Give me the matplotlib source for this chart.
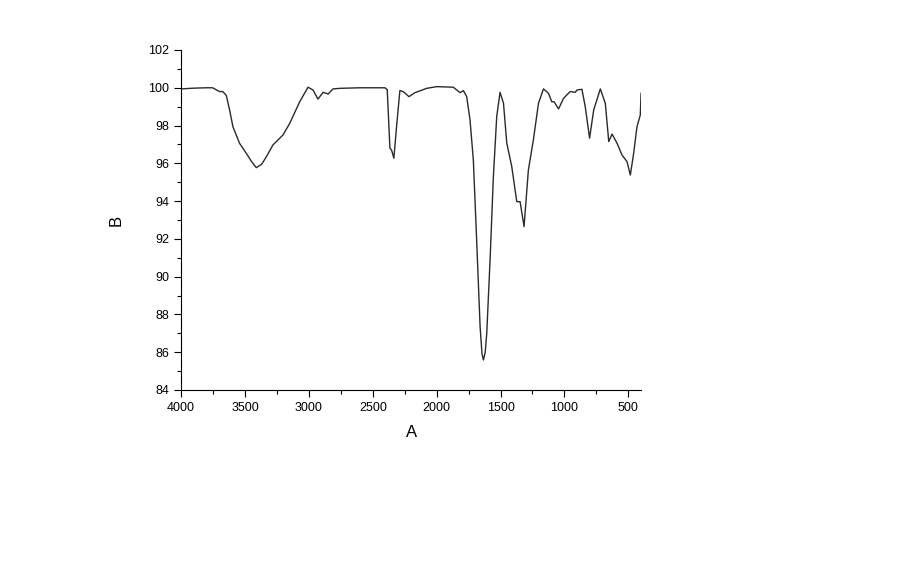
import matplotlib
matplotlib.use("Agg")
import matplotlib.pyplot as plt
from matplotlib.ticker import MultipleLocator

# wavenumber (A) and transmittance (B)
wavenumber = [
    4000, 3900, 3800, 3754, 3700, 3675, 3647, 3620, 3595, 3543, 3490, 3450, 3412,
    3370, 3333, 3282, 3203, 3150, 3072, 3007, 2968, 2929, 2889, 2850, 2811, 2758,
    2600, 2405, 2387, 2366, 2353, 2335, 2314, 2288, 2262, 2217, 2170, 2078, 2000,
    1870, 1817, 1791, 1765, 1739, 1713, 1686, 1660, 1645, 1634, 1620, 1608, 1582,
    1556, 1530, 1504, 1477, 1451, 1412, 1373, 1347, 1316, 1282, 1243, 1203, 1164,
    1125, 1099, 1081, 1046, 1007, 955, 915, 902, 863, 837, 803, 771, 719, 680,
    653, 627, 588, 549, 510, 484, 458, 432, 406, 400,
]
transmittance = [
    99.94, 99.98, 100.0, 100.0, 99.8, 99.8, 99.6, 98.8, 97.94, 97.06, 96.53, 96.1, 95.77,
    95.95, 96.35, 96.97, 97.5, 98.12, 99.26, 100.03, 99.88, 99.4, 99.76, 99.67, 99.94, 99.97,
    100.0, 100.0, 99.9, 96.8, 96.7, 96.27, 97.94, 99.85, 99.8, 99.53, 99.74, 99.97, 100.06,
    100.03, 99.74, 99.85, 99.53, 98.3, 96.18, 91.77, 87.35, 85.9, 85.59, 86.0, 87.0, 90.88,
    95.3, 98.47, 99.76, 99.18, 97.06, 95.82, 93.97, 93.97, 92.65, 95.65, 97.24, 99.18, 99.94,
    99.71, 99.26, 99.26, 98.88, 99.44, 99.8, 99.76, 99.88, 99.92, 99.0, 97.33, 98.82, 99.94, 99.18,
    97.15, 97.55, 97.06, 96.44, 96.09, 95.38, 96.53, 97.94, 98.56, 99.71,
]

plt.rcParams["font.family"] = ["Liberation Sans", "DejaVu Sans"]

fig = plt.figure(figsize=(9, 5.74), dpi=100)
ax = fig.add_axes([0.2013, 0.3206, 0.511, 0.5923])
ax.plot(wavenumber, transmittance, color="#2a2a2a", lw=1.0)

ax.set_xlim(4000, 400)
ax.set_ylim(84, 102)
ax.xaxis.set_major_locator(MultipleLocator(500))
ax.xaxis.set_minor_locator(MultipleLocator(250))
ax.yaxis.set_major_locator(MultipleLocator(2))
ax.yaxis.set_minor_locator(MultipleLocator(1))
ax.tick_params(which="major", direction="out", length=5, width=0.8, labelsize=9)
ax.tick_params(which="minor", direction="out", length=3, width=0.8)
for s in ("top", "right"):
    ax.spines[s].set_visible(False)

ax.set_xlabel("A", fontsize=12, labelpad=8)
ax.set_ylabel("B", fontsize=12, labelpad=18)

fig.savefig("out.png", dpi=100)
